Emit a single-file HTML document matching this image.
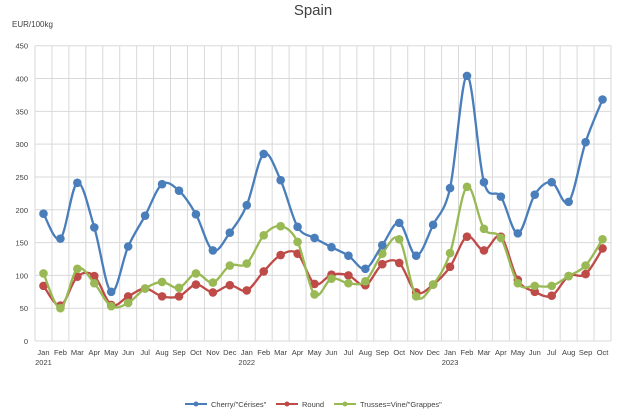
<!DOCTYPE html>
<html><head><meta charset="utf-8"><style>
html,body{margin:0;padding:0;background:#fff;}
svg{display:block;font-family:"Liberation Sans",sans-serif;}
</style></head><body>
<svg id="c" width="626" height="411" viewBox="0 0 626 411" xmlns="http://www.w3.org/2000/svg">
<text x="313" y="15" font-size="15" text-anchor="middle" fill="#404040">Spain</text>
<text x="12" y="27" font-size="8" fill="#404040">EUR/100kg</text>
<g id="grid"></g><g id="series"></g>
<g font-size="7.5" fill="#404040">
<line x1="185" y1="404" x2="207" y2="404" stroke="#4a7ebb" stroke-width="2"/><circle cx="196" cy="404" r="2.5" fill="#4a7ebb"/>
<text x="211" y="407">Cherry/"Cérises"</text>
<line x1="276" y1="404" x2="298" y2="404" stroke="#be4b48" stroke-width="2"/><circle cx="287" cy="404" r="2.5" fill="#be4b48"/>
<text x="302" y="407">Round</text>
<line x1="334" y1="404" x2="356" y2="404" stroke="#98b954" stroke-width="2"/><circle cx="345" cy="404" r="2.5" fill="#98b954"/>
<text x="360" y="407">Trusses=Vine/"Grappes"</text>
</g>
</svg>
<script>
var NS="http://www.w3.org/2000/svg",svg=document.getElementById('c'),g=document.getElementById('grid'),s=document.getElementById('series');
function el(t,a,p,txt){var e=document.createElementNS(NS,t);for(var k in a)e.setAttribute(k,a[k]);if(txt!=null)e.textContent=txt;(p||svg).appendChild(e);return e;}
var L=35,R=611,T=45.7,B=341,n=34,w=(R-L)/n,k=(B-T)/450;
function X(i){return L+w*(i+0.5);} function Y(v){return B-v*k;}
for(var v=0;v<=450;v+=50){el('line',{x1:L,x2:R,y1:Y(v),y2:Y(v),stroke:'#d9d9d9','stroke-width':1},g);el('text',{x:28,y:Y(v)+3,'font-size':7.5,'text-anchor':'end',fill:'#404040'},g,v);}
for(var i=0;i<=n;i++)el('line',{x1:L+w*i,x2:L+w*i,y1:T,y2:B,stroke:'#d9d9d9','stroke-width':1},g);
var m=['Jan','Feb','Mar','Apr','May','Jun','Jul','Aug','Sep','Oct','Nov','Dec'];
for(var i=0;i<n;i++){el('text',{x:X(i),y:355,'font-size':7.5,'text-anchor':'middle',fill:'#404040'},g,m[i%12]);}
[[0,'2021'],[12,'2022'],[24,'2023']].forEach(function(a){el('text',{x:X(a[0]),y:365,'font-size':7.5,'text-anchor':'middle',fill:'#404040'},g,a[1]);});
var D=[
['#be4b48',[84,54,98,99,55,68,80,68,68,86,74,85,77,106,131,133,87,101,100,85,117,119,74,86,113,159,138,159,93,75,69,99,102,141]],
['#98b954',[103,50,110,88,53,58,80,90,81,103,89,115,118,161,175,151,71,95,88,91,133,155,68,86,134,235,171,157,88,84,84,99,115,155]],
['#4a7ebb',[194,156,241,173,75,144,191,239,229,193,138,165,207,285,245,174,157,143,130,110,146,180,130,177,233,404,242,220,164,223,242,212,303,368]]];
D.forEach(function(d){var p=d[1].map(function(v,i){return [X(i),Y(v)];});var path='M'+p[0][0]+','+p[0][1];
for(var i=0;i<p.length-1;i++){var p0=p[Math.max(i-1,0)],p1=p[i],p2=p[i+1],p3=p[Math.min(i+2,p.length-1)],t=1/6;
path+=' C'+(p1[0]+(p2[0]-p0[0])*t)+','+(p1[1]+(p2[1]-p0[1])*t)+' '+(p2[0]-(p3[0]-p1[0])*t)+','+(p2[1]-(p3[1]-p1[1])*t)+' '+p2[0]+','+p2[1];}
el('path',{d:path,fill:'none',stroke:d[0],'stroke-width':2.3},s);
p.forEach(function(q){el('circle',{cx:q[0],cy:q[1],r:4.3,fill:d[0]},s);});});
</script>
</body></html>
